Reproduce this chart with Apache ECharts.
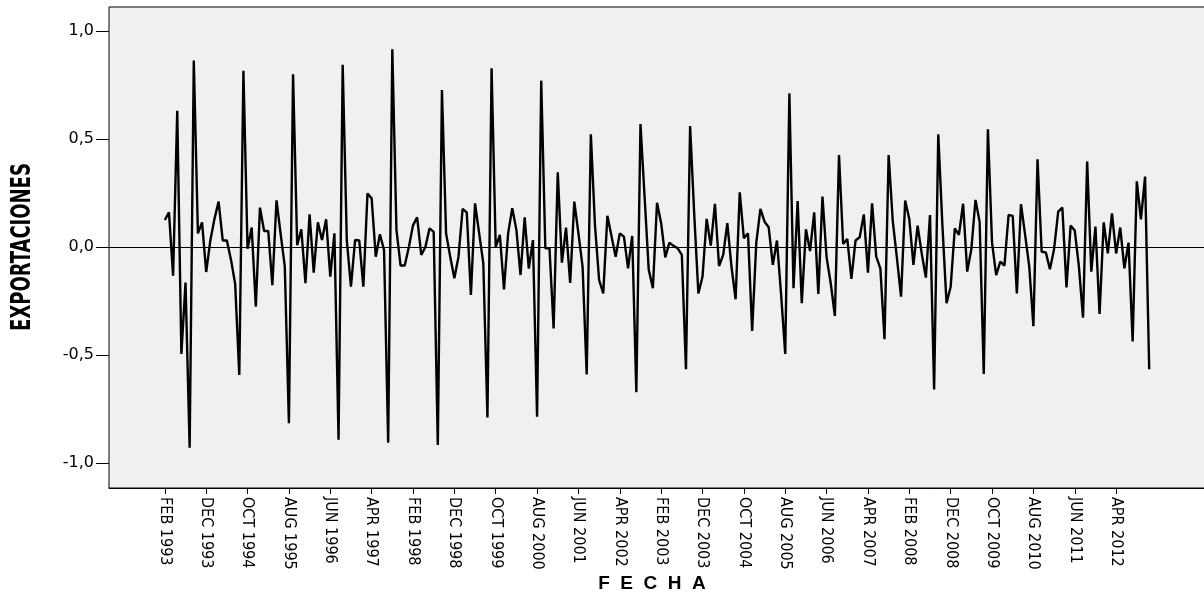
<!DOCTYPE html>
<html>
<head>
<meta charset="utf-8">
<script src="https://cdn.jsdelivr.net/npm/echarts@6/dist/echarts.min.js"></script>
<style>
  html, body { margin: 0; padding: 0; background: #ffffff; }
  #chart { width: 1204px; height: 594px; }
</style>
</head>
<body>
<div id="chart"></div>
<script>
// Monthly export series (differenced), FEB 1993 – DEC 2012.
// The month axis starts at JAN 1992; the first 13 months have no value.
const axisStartYear = 1992;
const axisMonthCount = 270;
const leadingMissing = 13;
const monthNames = ['JAN', 'FEB', 'MAR', 'APR', 'MAY', 'JUN', 'JUL', 'AUG', 'SEP', 'OCT', 'NOV', 'DEC'];

const v1993 = [0.125, 0.16, -0.133, 0.63, -0.495, -0.165, -0.93, 0.863, 0.063, 0.114, -0.116]; // FEB–DEC
const v1994 = [0.03, 0.13, 0.21, 0.03, 0.03, -0.06, -0.17, -0.593, 0.816, -0.008, 0.09, -0.276];
const v1995 = [0.182, 0.074, 0.074, -0.177, 0.216, 0.06, -0.09, -0.816, 0.8, 0.008, 0.082, -0.168];
const v1996 = [0.151, -0.119, 0.114, 0.032, 0.128, -0.137, 0.063, -0.893, 0.843, 0.03, -0.184, 0.032];
const v1997 = [0.03, -0.184, 0.248, 0.225, -0.045, 0.059, -0.014, -0.906, 0.915, 0.079, -0.086, -0.086];
const v1998 = [0.0, 0.1, 0.137, -0.037, 0.0, 0.086, 0.07, -0.917, 0.727, 0.063, -0.045, -0.145];
const v1999 = [-0.045, 0.176, 0.16, -0.222, 0.202, 0.063, -0.076, -0.789, 0.827, 0.0, 0.056, -0.196];
const v2000 = [0.063, 0.179, 0.079, -0.13, 0.137, -0.1, 0.032, -0.786, 0.77, -0.006, -0.006, -0.377];
const v2001 = [0.346, -0.073, 0.09, -0.167, 0.21, 0.063, -0.091, -0.59, 0.522, 0.1, -0.153, -0.215];
const v2002 = [0.144, 0.05, -0.045, 0.063, 0.048, -0.099, 0.051, -0.673, 0.569, 0.23, -0.106, -0.191];
const v2003 = [0.205, 0.11, -0.048, 0.02, 0.005, -0.006, -0.037, -0.566, 0.56, 0.15, -0.215, -0.137];
const v2004 = [0.13, 0.006, 0.2, -0.088, -0.037, 0.11, -0.091, -0.242, 0.253, 0.04, 0.063, -0.389];
const v2005 = [0.02, 0.176, 0.117, 0.091, -0.083, 0.03, -0.22, -0.495, 0.711, -0.191, 0.213, -0.26];
const v2006 = [0.082, -0.019, 0.16, -0.218, 0.233, -0.048, -0.168, -0.319, 0.426, 0.014, 0.037, -0.148];
const v2007 = [0.03, 0.045, 0.151, -0.119, 0.202, -0.045, -0.099, -0.427, 0.426, 0.12, -0.05, -0.23];
const v2008 = [0.215, 0.128, -0.083, 0.099, -0.03, -0.142, 0.148, -0.66, 0.522, 0.1, -0.26, -0.184];
const v2009 = [0.086, 0.056, 0.2, -0.114, -0.01, 0.218, 0.117, -0.588, 0.545, 0.02, -0.13, -0.068];
const v2010 = [-0.086, 0.148, 0.144, -0.215, 0.198, 0.056, -0.091, -0.367, 0.406, -0.022, -0.025, -0.103];
const v2011 = [-0.01, 0.164, 0.182, -0.187, 0.099, 0.076, -0.09, -0.327, 0.395, -0.114, 0.094, -0.31];
const v2012 = [0.114, -0.03, 0.156, -0.03, 0.09, -0.099, 0.02, -0.438, 0.304, 0.128, 0.326, -0.566];

const yTickValues = [-1, -0.5, 0, 0.5, 1];
const labelStep = 10;        // one date label every ten months
const lastLabelIndex = 243;  // APR 2012
const yTitle = 'EXPORTACIONES';
const xTitle = 'FECHA';

// Month categories along the date axis
const categories = [];
for (let i = 0; i < axisMonthCount; i++) {
  const y = axisStartYear + Math.floor(i / 12);
  categories.push(monthNames[i % 12] + ' ' + y);
}

// Series data aligned with the categories (missing months stay empty)
const observed = [].concat(v1993, v1994, v1995, v1996, v1997, v1998, v1999, v2000,
  v2001, v2002, v2003, v2004, v2005, v2006, v2007, v2008, v2009, v2010, v2011, v2012);
const seriesData = [];
for (let i = 0; i < axisMonthCount; i++) {
  const k = i - leadingMissing;
  seriesData.push(k >= 0 && k < observed.length ? observed[k] : null);
}

const showDateLabel = (idx) =>
  idx >= leadingMissing && idx <= lastLabelIndex && (idx - leadingMissing) % labelStep === 0;

const bandWidth = 4.136;
const gridLeft = 109;
const gridTop = 7;
const gridHeight = 481;

const chart = echarts.init(document.getElementById('chart'), null, { renderer: 'canvas' });

chart.setOption({
  animation: false,
  backgroundColor: '#ffffff',
  grid: {
    left: gridLeft,
    top: gridTop,
    width: bandWidth * axisMonthCount,
    height: gridHeight,
    outerBoundsMode: 'none',
    containLabel: false,
    show: true,
    backgroundColor: '#f0f0f0',
    borderColor: '#000000',
    borderWidth: 1
  },
  xAxis: {
    type: 'category',
    data: categories,
    boundaryGap: true,
    axisLine: { show: true, onZero: false, lineStyle: { color: '#000000', width: 1 } },
    axisTick: {
      show: true,
      alignWithLabel: true,
      interval: showDateLabel,
      length: 6,
      lineStyle: { color: '#000000', width: 1 }
    },
    axisLabel: {
      interval: showDateLabel,
      rotate: -90,
      margin: 9,
      color: '#000000',
      fontFamily: '"Liberation Sans Narrow", "DejaVu Sans Condensed", sans-serif',
      fontSize: 16
    },
    splitLine: { show: false }
  },
  yAxis: {
    type: 'value',
    min: -1.116,
    max: 1.111,
    axisLine: { show: false },
    splitLine: { show: false },
    axisTick: {
      show: true,
      customValues: yTickValues,
      length: 13,
      lineStyle: { color: '#000000', width: 1 }
    },
    axisLabel: {
      customValues: yTickValues,
      margin: 15,
      color: '#000000',
      fontFamily: '"DejaVu Sans", sans-serif',
      fontSize: 16,
      formatter: (v) => v.toFixed(1).replace('.', ',')
    }
  },
  graphic: [{
    // vertical axis title, tall condensed bold lettering
    type: 'text',
    x: 23,
    y: 247,
    rotation: Math.PI / 2,
    scaleY: 1.3,
    silent: true,
    style: {
      text: yTitle,
      fill: '#000000',
      font: 'bold 20px "Liberation Sans Narrow", "DejaVu Sans Condensed", sans-serif',
      textAlign: 'center',
      textVerticalAlign: 'middle'
    }
  }, {
    // horizontal axis title, wide spaced bold lettering
    type: 'text',
    x: 652,
    y: 584,
    silent: true,
    style: {
      text: xTitle.split('').join('  '),
      fill: '#000000',
      font: 'bold 19px "Liberation Sans", Arial, sans-serif',
      textAlign: 'center',
      textVerticalAlign: 'middle'
    }
  }],
  series: [{
    type: 'line',
    data: seriesData,
    showSymbol: false,
    connectNulls: false,
    lineStyle: { color: '#000000', width: 2.4 },
    emphasis: { disabled: true },
    markLine: {
      silent: true,
      symbol: ['none', 'none'],
      label: { show: false },
      lineStyle: { color: '#000000', width: 1, type: 'solid' },
      data: [{ yAxis: 0 }]
    }
  }]
});
</script>
</body>
</html>
